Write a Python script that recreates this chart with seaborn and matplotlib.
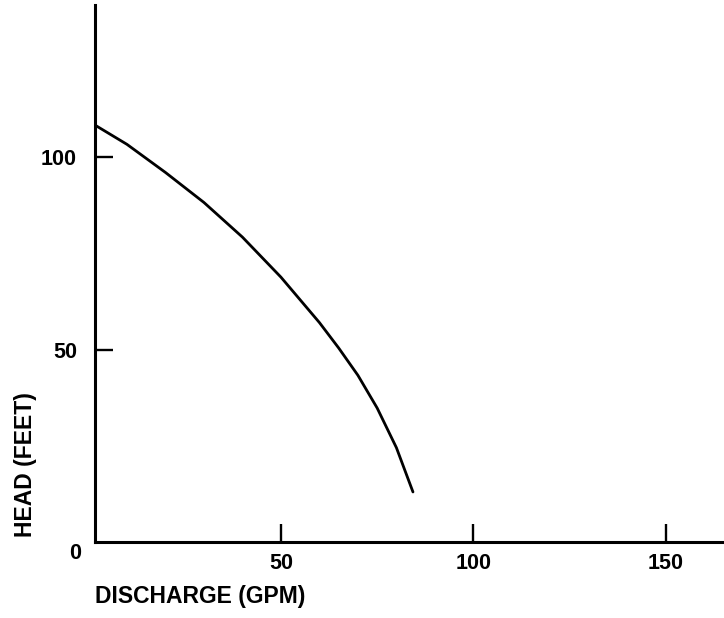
import matplotlib
matplotlib.use("Agg")
import matplotlib.pyplot as plt
import seaborn as sns
import pandas as pd

# Pump curve
discharge_gpm = [1.7, 10, 20, 30, 40, 50, 60, 65, 70, 75, 80, 84.3]
head_feet = [108.3, 103.3, 96.0, 88.2, 79.2, 68.8, 57.0, 50.4, 43.3, 34.8, 24.5, 13.0]
x_ticks = [50, 100, 150]
y_ticks = [50, 100]

df = pd.DataFrame({"Discharge": discharge_gpm, "Head": head_feet})

sns.set_theme(style="white")
plt.rcParams["font.family"] = ["Liberation Sans", "DejaVu Sans"]

fig = plt.figure(figsize=(7.24, 6.18), dpi=100)
ax = fig.add_axes([95 / 724, 76 / 618, 629 / 724, 537 / 618])

sns.lineplot(data=df, x="Discharge", y="Head", ax=ax, color="black", linewidth=2.0)
ax.lines[0].set_solid_joinstyle("round")

ax.set_xlim(1.7, 165.1)
ax.set_ylim(0, 139.5)

for side in ["top", "right"]:
    ax.spines[side].set_visible(False)
for side in ["left", "bottom"]:
    ax.spines[side].set_color("black")
    ax.spines[side].set_linewidth(2.2)

ax.set_xticks(x_ticks)
ax.set_yticks(y_ticks)
ax.set_xticklabels([str(v) for v in x_ticks])
ax.set_yticklabels([str(v) for v in y_ticks])
ax.tick_params(axis="x", direction="in", length=13, width=1.7, color="black",
               labelsize=15.5, pad=8, bottom=True)
ax.tick_params(axis="y", direction="in", length=13, width=1.7, color="black",
               labelsize=15.5, pad=13, left=True)
for lab in ax.get_xticklabels() + ax.get_yticklabels():
    lab.set_fontweight("bold")
    lab.set_color("black")

ax.annotate("0", xy=(0, 0), xycoords="axes fraction", xytext=(-14.4, -8.6),
            textcoords="offset points", ha="center", va="center",
            fontsize=15.5, fontweight="bold", color="black")

ax.set_xlabel("DISCHARGE (GPM)", loc="left", fontsize=16.5, fontweight="bold",
              color="black")
ax.xaxis.set_label_coords(0, -0.1006)
ax.xaxis.label.set_verticalalignment("center")

ax.set_ylabel("HEAD (FEET)", fontsize=16.5, fontweight="bold", color="black")
ax.yaxis.set_label_coords(-0.111, 0.145)
ax.yaxis.label.set_verticalalignment("center")
ax.yaxis.label.set_horizontalalignment("center")

fig.savefig("out.png", dpi=100, facecolor="white")
